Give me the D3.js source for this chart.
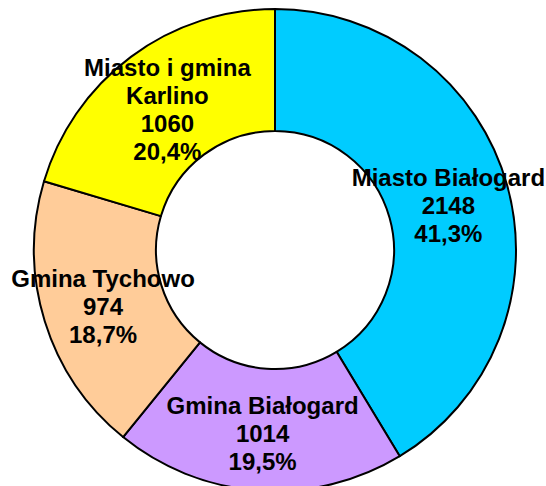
<!DOCTYPE html>
<html>
<head>
<meta charset="utf-8">
<script src="https://cdn.jsdelivr.net/npm/d3@7"></script>
<style>
  body { margin: 0; background: #fff; }
  text { font-family: "Liberation Sans", Arial, sans-serif; font-weight: bold; }
</style>
</head>
<body>
<div id="chart"></div>
<script>
// Donut chart - clockwise from 12 o'clock

var categories = ["Miasto Białogard", "Gmina Białogard", "Gmina Tychowo", "Miasto i gmina\nKarlino"];
var values = [2148, 1014, 974, 1060];
var colors = ["#00CCFF", "#CC99FF", "#FFCC99", "#FFFF00"];

var width = 546, height = 486;
var cx = 275, cy = 250;
var outerR = 241, innerR = 119;
var lineH = 28;

var svg = d3.select("#chart").append("svg")
  .attr("width", width)
  .attr("height", height);

var g = svg.append("g")
  .attr("transform", "translate(" + cx + "," + cy + ")");

var total = d3.sum(values);
var pctFormat = function(v) { return d3.format(".1f")(v * 100).replace(".", ",") + "%"; };

var data = categories.map(function(c, i) { return {name: c, value: values[i], color: colors[i]}; });

var pie = d3.pie()
  .sort(null)
  .value(function(d) { return d.value; });

var arc = d3.arc()
  .innerRadius(innerR)
  .outerRadius(outerR);

var arcs = pie(data);

// slices
g.selectAll("path.slice")
  .data(arcs).enter()
  .append("path")
  .attr("class", "slice")
  .attr("d", arc)
  .attr("fill", function(d) { return d.data.color; })
  .attr("stroke", "#000")
  .attr("stroke-width", 2)
  .attr("stroke-linejoin", "round");

// labels
var labels = g.selectAll("text.label")
  .data(arcs).enter()
  .append("text")
  .attr("class", "label")
  .attr("text-anchor", "middle")
  .attr("font-size", 24)
  .attr("fill", "#000");

labels.each(function(d) {
  var lines = d.data.name.split("\n")
    .concat([String(d.data.value), pctFormat(d.data.value / total)]);
  var c = arc.centroid(d);
  var y0 = c[1] - (lines.length - 1) * lineH / 2 + 12;
  var t = d3.select(this);
  lines.forEach(function(l, i) {
    t.append("tspan")
      .attr("x", c[0])
      .attr("y", y0 + i * lineH)
      .text(l);
  });
});
</script>
</body>
</html>
